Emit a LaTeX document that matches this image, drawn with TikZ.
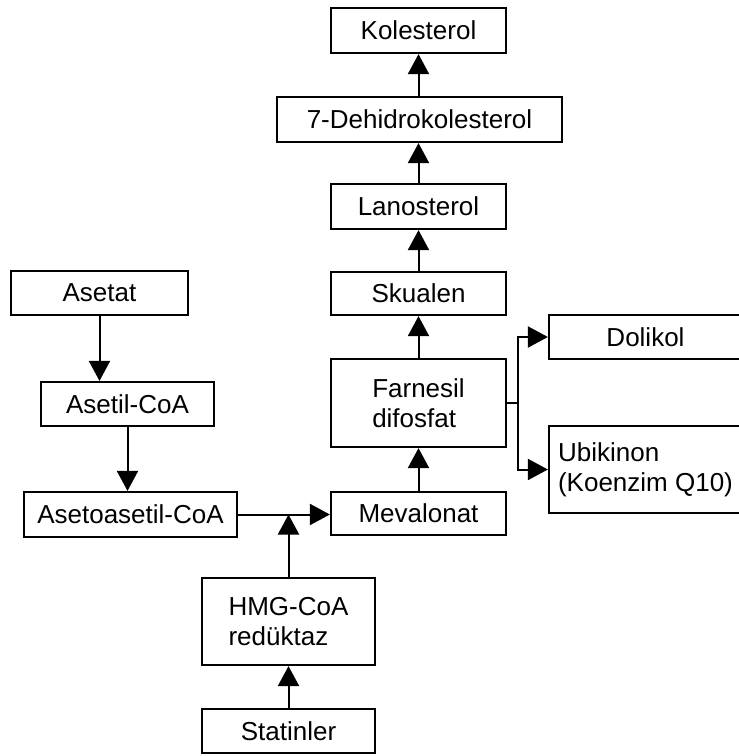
\documentclass[tikz,border=0pt]{standalone}
\usepackage{fontspec}
\setmainfont{Liberation Sans}
\usetikzlibrary{arrows.meta}
\begin{document}
\begin{tikzpicture}[x=1pt,y=-1pt,
  box/.style={draw=black,line width=2.2pt,fill=white,inner sep=0pt,align=left,
    font=\fontsize{26}{30}\selectfont},
  conn/.style={line width=2pt},
  arr/.style={conn,-{Triangle[width=21pt,length=20pt]}}]
\useasboundingbox (0,0) rectangle (739,756);
\begin{scope}
\clip (0,0) rectangle (739,756);
\node[box,minimum width=175pt,minimum height=45pt] (kol) at (418.5,30.5) {Kolesterol};
\node[box,minimum width=285pt,minimum height=45pt] (dehi) at (419.5,119.5) {7-Dehidrokolesterol};
\node[box,minimum width=175pt,minimum height=45pt] (lano) at (418.5,206.5) {Lanosterol};
\node[box,minimum width=175pt,minimum height=43pt] (sku) at (418.5,293.5) {Skualen};
\node[box,minimum width=175pt,minimum height=88pt] (farn) at (418.5,403) {Farnesil\\difosfat};
\node[box,minimum width=175pt,minimum height=43pt] (mev) at (418.5,513.5) {Mevalonat};
\node[box,minimum width=193pt,minimum height=44pt] (dol) at (645.5,337) {Dolikol};
\node[box,minimum width=193pt,minimum height=87pt] (ubi) at (645.5,469.5) {Ubikinon\\(Koenzim Q10)};
\node[box,minimum width=177pt,minimum height=44pt] (asetat) at (99.5,293) {Asetat};
\node[box,minimum width=173pt,minimum height=44pt] (asetil) at (127.5,404) {Asetil-CoA};
\node[box,minimum width=213pt,minimum height=45pt] (aseto) at (130.5,514.5) {Asetoasetil-CoA};
\node[box,minimum width=173pt,minimum height=87pt] (hmg) at (288.5,621.5) {HMG-CoA\\redüktaz};
\node[box,minimum width=173pt,minimum height=44pt] (stat) at (288.5,731) {Statinler};
\end{scope}
\draw[arr] (dehi.north -| kol.south) -- (kol.south);
\draw[arr] (lano.north) -- (dehi.south -| lano.north);
\draw[arr] (sku) -- (lano);
\draw[arr] (farn) -- (sku);
\draw[arr] (mev) -- (farn);
\draw[arr] (asetat) -- (asetil.north -| asetat.south);
\draw[arr] (asetil) -- (aseto.north -| asetil.south);
\draw[arr] (aseto.east) -- (mev.west |- aseto.east);
\coordinate (j) at (hmg.north |- aseto.east);
\draw[arr] (hmg.north) -- (j);
\draw[arr] (stat) -- (hmg);
\draw[conn] (farn.east) -- ++(11,0) coordinate (br);
\draw[arr] (br) |- (dol.west);
\draw[arr] (br) |- (ubi.west);
\end{tikzpicture}
\end{document}
